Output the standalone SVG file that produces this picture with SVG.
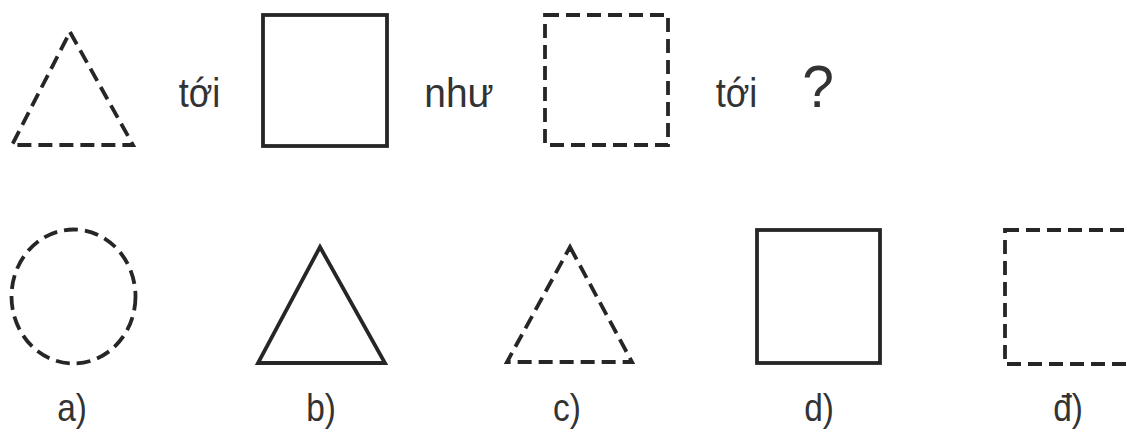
<svg xmlns="http://www.w3.org/2000/svg" width="1126" height="437" viewBox="0 0 1126 437">
<style>
.s{fill:none;stroke:#262626;stroke-width:3.8;stroke-linejoin:miter}
.d{stroke-dasharray:14 7}
.t{font-family:"Liberation Sans",Arial,sans-serif;fill:#333333;text-anchor:middle}
.w{font-size:41px}
.l{font-size:38px}
</style>
<rect width="1126" height="437" fill="#ffffff"/>
<g id="q-triangle"><polygon class="s d" points="70,32 133,145 12,145"/></g>
<g id="q-word1"><text class="t w" transform="translate(199.5,107) scale(0.88,1)">tới</text></g>
<g id="q-square"><rect class="s" x="263" y="15" width="124" height="131" stroke="#3f3a3a"/></g>
<g id="q-word2"><text class="t w" transform="translate(459,107) scale(0.95,1)">như</text></g>
<g id="q-dashsquare"><rect class="s d" x="545" y="15" width="123" height="130"/></g>
<g id="q-word3"><text class="t w" transform="translate(736.5,107) scale(0.88,1)">tới</text></g>
<g id="q-mark"><text class="t" transform="translate(818,107) scale(0.95,1)" font-size="60">?</text></g>
<g id="opt-a"><ellipse class="s d" cx="73.5" cy="296.5" rx="62" ry="67"/><text class="t l" transform="translate(72,421) scale(0.88,1)">a)</text></g>
<g id="opt-b"><polygon class="s" points="320,247 385,363 258,363"/><text class="t l" transform="translate(321,421) scale(0.88,1)">b)</text></g>
<g id="opt-c"><polygon class="s d" points="570,247 632,362 507,362"/><text class="t l" transform="translate(567,421) scale(0.88,1)">c)</text></g>
<g id="opt-d"><rect class="s" x="757" y="230" width="123" height="133"/><text class="t l" transform="translate(819,421) scale(0.88,1)">d)</text></g>
<g id="opt-dd"><rect class="s d" x="1005" y="230" width="130" height="134"/><text class="t l" transform="translate(1068,421) scale(0.88,1)">đ)</text></g>
<g id="connectors"></g>
</svg>
